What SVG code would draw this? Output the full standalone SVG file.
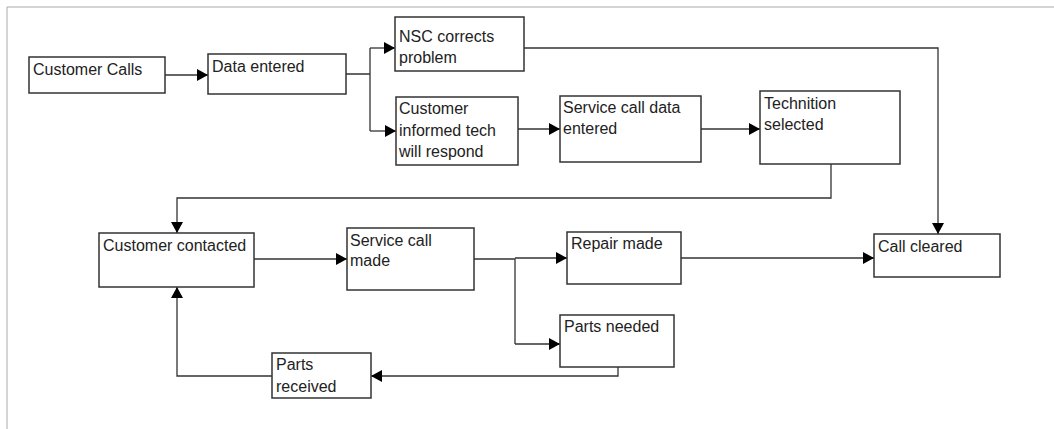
<svg xmlns="http://www.w3.org/2000/svg" width="1054" height="429" viewBox="0 0 1054 429">
<defs>
<marker id="ah" markerUnits="userSpaceOnUse" markerWidth="12" markerHeight="12" refX="11" refY="6" orient="auto">
<path d="M0,0 L11,6 L0,12 z" fill="#000"/>
</marker>
<style>
.box{fill:#fff;stroke:#333;stroke-width:1.5}
.t{font-family:"Liberation Sans",Arial,sans-serif;font-size:16px;fill:#222}
.c{fill:none;stroke:#333;stroke-width:1.3}
.a{marker-end:url(#ah)}
</style>
</defs>
<rect width="1054" height="429" fill="#fff"/>
<path d="M7,429 V7 H1054" fill="none" stroke="#aaa" stroke-width="1"/>
<g id="connectors">
<path class="c a" d="M165,75 H208"/>
<path class="c" d="M346,74 H370 M370,48 V131"/>
<path class="c a" d="M370,48 H395"/>
<path class="c a" d="M370,131 H396"/>
<path class="c a" d="M518,129 H560"/>
<path class="c a" d="M701,129 H760"/>
<path class="c a" d="M524,48 H938 V234"/>
<path class="c a" d="M831,164 V198 H177 V233"/>
<path class="c a" d="M254,259 H347"/>
<path class="c" d="M474,259 H515 V344"/>
<path class="c a" d="M515,258 H567"/>
<path class="c a" d="M515,344 H560"/>
<path class="c a" d="M681,258 H874"/>
<path class="c a" d="M618,367 V376 H371"/>
<path class="c a" d="M272,376 H177 V287"/>
</g>
<g id="customer-calls"><rect class="box" x="29" y="57" width="136" height="36"/><text class="t" x="33" y="75">Customer Calls</text></g>
<g id="data-entered"><rect class="box" x="208" y="54" width="138" height="40"/><text class="t" x="212" y="72">Data entered</text></g>
<g id="nsc-corrects"><rect class="box" x="395" y="17" width="129" height="54"/><text class="t" x="399" y="42">NSC corrects</text><text class="t" x="399" y="63">problem</text></g>
<g id="customer-informed"><rect class="box" x="396" y="97" width="122" height="68"/><text class="t" x="399" y="114">Customer</text><text class="t" x="399" y="136">informed tech</text><text class="t" x="399" y="157">will respond</text></g>
<g id="service-call-data"><rect class="box" x="560" y="96" width="141" height="66"/><text class="t" x="563" y="113">Service call data</text><text class="t" x="563" y="134">entered</text></g>
<g id="technition-selected"><rect class="box" x="760" y="91" width="140" height="73"/><text class="t" x="764" y="109">Technition</text><text class="t" x="764" y="130">selected</text></g>
<g id="customer-contacted"><rect class="box" x="99" y="233" width="155" height="54"/><text class="t" x="103" y="251">Customer contacted</text></g>
<g id="service-call-made"><rect class="box" x="347" y="228" width="127" height="62"/><text class="t" x="350" y="246">Service call</text><text class="t" x="350" y="266">made</text></g>
<g id="repair-made"><rect class="box" x="567" y="232" width="114" height="52"/><text class="t" x="571" y="249">Repair made</text></g>
<g id="parts-needed"><rect class="box" x="560" y="315" width="114" height="52"/><text class="t" x="564" y="332">Parts needed</text></g>
<g id="call-cleared"><rect class="box" x="874" y="234" width="126" height="43"/><text class="t" x="878" y="252">Call cleared</text></g>
<g id="parts-received"><rect class="box" x="272" y="353" width="99" height="45"/><text class="t" x="276" y="370">Parts</text><text class="t" x="276" y="392">received</text></g>
</svg>
